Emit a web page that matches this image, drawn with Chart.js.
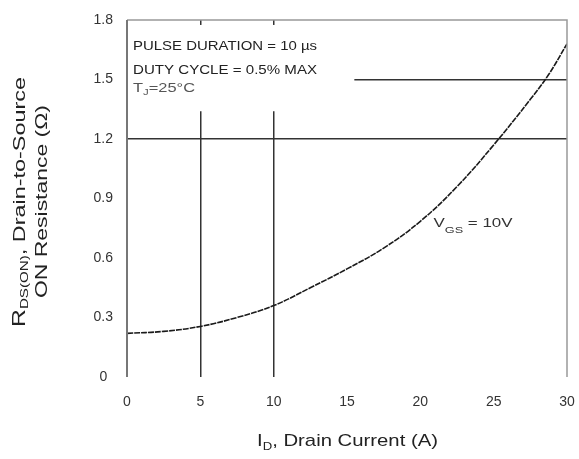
<!DOCTYPE html>
<html><head><meta charset="utf-8">
<script src="https://cdn.jsdelivr.net/npm/chart.js@4"></script>
<style>html,body{margin:0;padding:0;background:#fff}#wrap{width:579px;height:459px}</style>
</head><body><div id="wrap"><canvas id="c" width="579" height="459"></canvas></div>
<script>
// ---- data ----
const drainCurrent = [0, 2.5, 5, 7.5, 10, 12.5, 15, 17.5, 20, 22.5, 25, 27.5, 28.75, 30];
const rdsOn       = [0.22, 0.23, 0.255, 0.30, 0.36, 0.45, 0.545, 0.65, 0.785, 0.96, 1.17, 1.40, 1.525, 1.68];
const xTickValues = [0, 5, 10, 15, 20, 25, 30];
const xTickLabels = ['0', '5', '10', '15', '20', '25', '30'];
const yTickValues = [0, 0.3, 0.6, 0.9, 1.2, 1.5, 1.8];
const yTickLabels = ['0', '0.3', '0.6', '0.9', '1.2', '1.5', '1.8'];
const xGridValues = [5, 10];
const yGridValues = [1.2, 1.5];
const noteLines = ['PULSE DURATION = 10 µs', 'DUTY CYCLE = 0.5% MAX'];

// draw text made of parts, horizontally fitted to a target width
function drawParts(ctx, parts, x, y, targetW, color) {
  let total = 0;
  parts.forEach(p => { ctx.font = p.font; p.w = ctx.measureText(p.t).width; total += p.w; });
  const s = targetW / total;
  ctx.save();
  ctx.translate(x, y);
  ctx.scale(s, 1);
  ctx.fillStyle = color;
  ctx.textBaseline = 'alphabetic';
  ctx.textAlign = 'left';
  let cx = 0;
  parts.forEach(p => { ctx.font = p.font; ctx.fillText(p.t, cx, p.dy || 0); cx += p.w; });
  ctx.restore();
}

const F = 'Liberation Sans, Arial, Helvetica, sans-serif';

const decor = {
  id: 'decor',
  beforeDatasetsDraw(chart) {
    const {ctx, scales: {x, y}} = chart;
    ctx.save();
    ctx.fillStyle = '#fff';
    const l = x.getPixelForValue(0) + 1, r = x.getPixelForValue(15.5);
    const t = y.getPixelForValue(1.775), b = y.getPixelForValue(1.34);
    ctx.fillRect(l, t, r - l, b - t);
    ctx.restore();
  },
  afterDatasetsDraw(chart) {
    const {ctx, chartArea: a, scales: {x, y}} = chart;
    ctx.save();
    ctx.strokeStyle = '#999'; ctx.lineWidth = 1.5;
    ctx.beginPath();
    ctx.moveTo(a.left, a.top); ctx.lineTo(a.right, a.top); ctx.lineTo(a.right, a.bottom);
    ctx.stroke();
    ctx.strokeStyle = '#777'; ctx.lineWidth = 2;
    ctx.beginPath(); ctx.moveTo(a.left, a.top); ctx.lineTo(a.left, a.bottom); ctx.stroke();
    ctx.restore();

    const nx = a.left + 6;
    drawParts(ctx, [{t: noteLines[0], font: '13px ' + F}], nx, a.top + 30, 184, '#222');
    drawParts(ctx, [{t: noteLines[1], font: '13px ' + F}], nx, a.top + 54, 184, '#222');
    drawParts(ctx, [{t: 'T', font: '13px ' + F}, {t: 'J', font: '9px ' + F, dy: 3}, {t: '=25°C', font: '13px ' + F}], nx, a.top + 72, 62, '#555');
    drawParts(ctx, [{t: 'V', font: '12px ' + F}, {t: 'GS', font: '9px ' + F, dy: 6}, {t: ' = 10V', font: '12px ' + F}],
      x.getPixelForValue(20.9), y.getPixelForValue(0.755), 79, '#333');
  },
  afterDraw(chart) {
    const {ctx} = chart;
    drawParts(ctx, [{t: 'I', font: '17px ' + F}, {t: 'D', font: '11px ' + F, dy: 4}, {t: ', Drain Current (A)', font: '17px ' + F}],
      257, 446, 181, '#222');
    ctx.save();
    ctx.translate(25, 327);
    ctx.rotate(-Math.PI / 2);
    drawParts(ctx, [{t: 'R', font: '18px ' + F}, {t: 'DS(ON)', font: '11px ' + F, dy: 3}, {t: ', Drain-to-Source', font: '17px ' + F}],
      0, 0, 250, '#222');
    ctx.restore();
    ctx.save();
    ctx.translate(47, 298);
    ctx.rotate(-Math.PI / 2);
    drawParts(ctx, [{t: 'ON Resistance (Ω)', font: '17px ' + F}], 0, 0, 193, '#222');
    ctx.restore();
  }
};

new Chart(document.getElementById('c'), {
  type: 'line',
  data: {
    datasets: [{
      data: drainCurrent.map((v, i) => ({x: v, y: rdsOn[i]})),
      borderColor: '#1a1a1a',
      borderWidth: 1.6,
      borderDash: [6, 1],
      pointRadius: 0,
      tension: 0.4,
      fill: false
    }]
  },
  options: {
    responsive: false,
    animation: false,
    devicePixelRatio: 1,
    layout: {padding: {top: 20, right: 12, left: 0, bottom: 0}},
    plugins: {legend: {display: false}, tooltip: {enabled: false}},
    scales: {
      x: {
        type: 'linear', min: 0, max: 30,
        afterBuildTicks: s => { s.ticks = xTickValues.map(v => ({value: v})); },
        afterFit: s => { s.height = 82; s.paddingLeft = 0; s.paddingRight = 0; },
        border: {display: false},
        grid: {
          drawTicks: false, lineWidth: 1.5,
          color: c => (c.tick && xGridValues.includes(c.tick.value)) ? '#333' : 'rgba(0,0,0,0)'
        },
        ticks: {
          padding: 17, color: '#333', font: {size: 14, family: F},
          maxRotation: 0, autoSkip: false,
          callback: (v, i) => xTickLabels[i]
        }
      },
      y: {
        type: 'linear', min: 0, max: 1.8,
        afterBuildTicks: s => { s.ticks = yTickValues.map(v => ({value: v})); },
        afterFit: s => { s.width = 127; s.paddingTop = 0; s.paddingBottom = 0; },
        border: {display: false},
        grid: {
          drawTicks: false, lineWidth: 1.5,
          color: c => (c.tick && yGridValues.includes(c.tick.value)) ? '#333' : 'rgba(0,0,0,0)'
        },
        ticks: {
          padding: 14, crossAlign: 'center', color: '#333', font: {size: 14, family: F},
          autoSkip: false,
          callback: (v, i) => yTickLabels[i]
        }
      }
    }
  },
  plugins: [decor]
});
</script>
</body></html>
